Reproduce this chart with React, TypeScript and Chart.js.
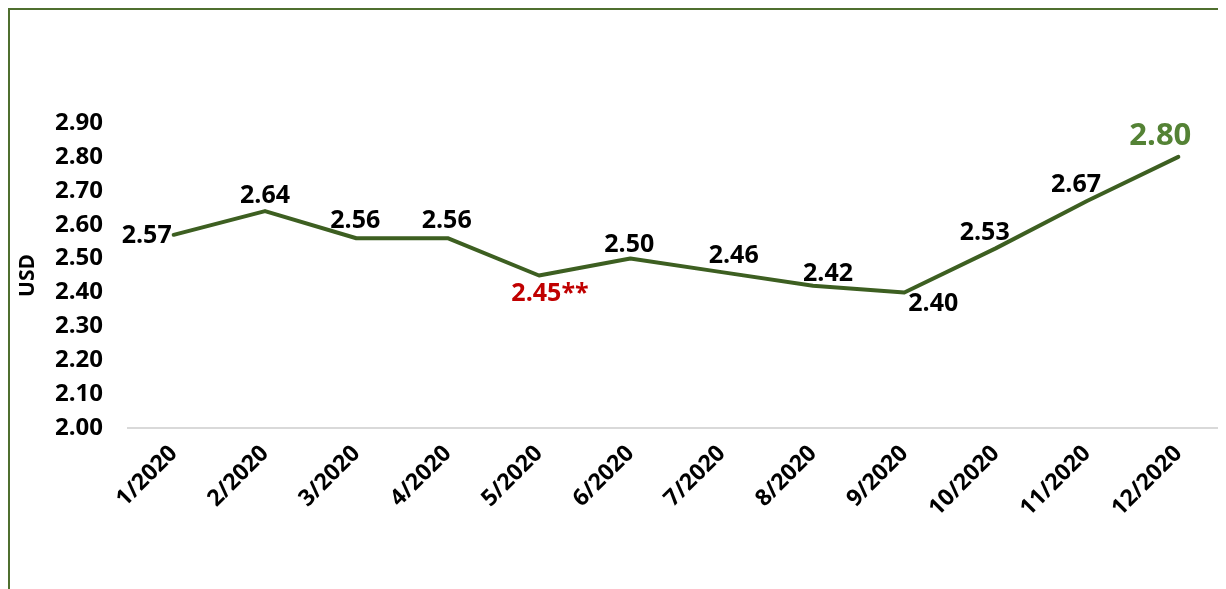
import React, { useEffect, useRef } from "react";
import { Chart, registerables } from "chart.js";

Chart.register(...registerables);

const categories = [
  "1/2020", "2/2020", "3/2020", "4/2020", "5/2020", "6/2020",
  "7/2020", "8/2020", "9/2020", "10/2020", "11/2020", "12/2020",
];
const prices = [2.57, 2.64, 2.56, 2.56, 2.45, 2.5, 2.46, 2.42, 2.4, 2.53, 2.67, 2.8];
const labelSuffixes = ["", "", "", "", "**", "", "", "", "", "", "", ""];
const yTicks = [2.0, 2.1, 2.2, 2.3, 2.4, 2.5, 2.6, 2.7, 2.8, 2.9];
const axisTitle = "USD";

// label styling / placement relative to each point (offset in px)
const labelOffsets: [number, number][] = [
  [-27, 1], [0, -15], [-1, -17], [-1, -17], [11, 18], [-1, -14],
  [12, -16], [15, -12], [29, 11], [-11, -16], [-11, -16], [-18, -21],
];
const labelColors = ["#000", "#000", "#000", "#000", "#c00000", "#000", "#000", "#000", "#000", "#000", "#000", "#548235"];
const labelSizes = [25, 25, 25, 25, 25, 25, 25, 25, 25, 25, 25, 31];

const FONT = "'Open Sans'";
const LINE_COLOR = "#3d5f21";

const labelPlugin = {
  id: "valueLabels",
  afterDatasetsDraw(chart: any) {
    const meta = chart.getDatasetMeta(0);
    const ctx = chart.ctx;
    ctx.save();
    ctx.textAlign = "center";
    ctx.textBaseline = "middle";
    meta.data.forEach((pt: any, i: number) => {
      const [dx, dy] = labelOffsets[i];
      ctx.font = `bold ${labelSizes[i]}px ${FONT}`;
      ctx.fillStyle = labelColors[i];
      ctx.fillText(prices[i].toFixed(2) + labelSuffixes[i], pt.x + dx, pt.y + dy);
    });
    ctx.restore();
  },
};

export default function App() {
  const ref = useRef<HTMLCanvasElement>(null);
  useEffect(() => {
    document.documentElement.style.overflow = "hidden";
    document.body.style.overflow = "hidden";
    const chart = new Chart(ref.current!, {
      type: "line",
      data: {
        labels: categories,
        datasets: [
          {
            data: prices,
            borderColor: LINE_COLOR,
            borderWidth: 4,
            pointRadius: 0,
            tension: 0,
            borderJoinStyle: "round",
            borderCapStyle: "round",
          },
        ],
      },
      options: {
        animation: false,
        responsive: false,
        devicePixelRatio: 1,
        layout: { padding: { top: 113, right: 2, left: 0, bottom: 0 } },
        plugins: { legend: { display: false }, tooltip: { enabled: false } },
        scales: {
          x: {
            offset: true,
            grid: { display: false, drawTicks: false },
            border: { display: true, color: "#d9d9d9", width: 2 },
            ticks: {
              minRotation: 45,
              maxRotation: 45,
              padding: 12,
              color: "#000",
              font: { family: FONT, size: 23, weight: "bold" },
            },
            afterFit: (s: any) => { s.height = 161; },
          },
          y: {
            min: 2,
            max: 2.9,
            grid: { display: false, drawTicks: false },
            border: { display: false },
            afterBuildTicks: (s: any) => { s.ticks = yTicks.map((v) => ({ value: v })); },
            ticks: {
              padding: 25,
              color: "#000",
              font: { family: FONT, size: 24, weight: "bold" },
              callback: (v: any) => Number(v).toFixed(2),
            },
            title: {
              display: true,
              text: axisTitle,
              color: "#000",
              padding: { top: 5, bottom: 0 },
              font: { family: FONT, size: 21, weight: "bold" },
            },
            afterFit: (s: any) => { s.width = 118; },
          },
        },
      },
      plugins: [labelPlugin],
    });
    return () => chart.destroy();
  }, []);

  return (
    <div
      style={{
        width: 1216,
        height: 579,
        borderTop: "2px solid #4f6f2f",
        borderLeft: "2px solid #4f6f2f",
      }}
    >
      <canvas ref={ref} width={1216} height={579} style={{ display: "block" }} />
    </div>
  );
}
